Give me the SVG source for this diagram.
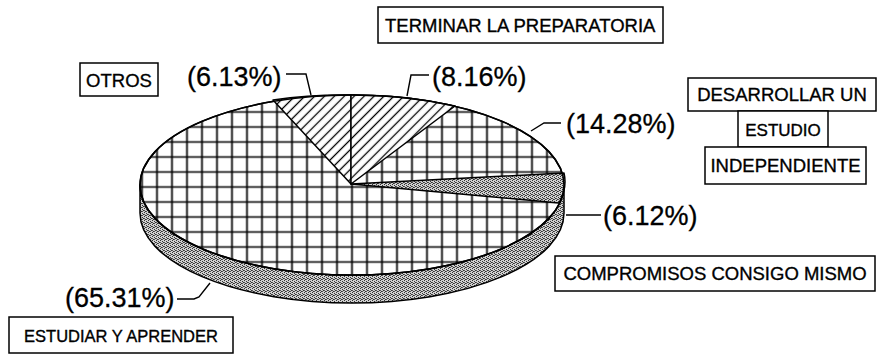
<svg xmlns="http://www.w3.org/2000/svg" width="879" height="355" viewBox="0 0 879 355">
<defs>
<pattern id="grid" patternUnits="userSpaceOnUse" x="-0.5" y="-0.5" width="15" height="15">
<rect width="15" height="15" fill="#fff"/>
<path d="M7.5,0 V15 M0,7.5 H15" stroke="#000" stroke-width="1.7" fill="none"/>
</pattern>
<pattern id="hatch" patternUnits="userSpaceOnUse" width="7" height="7" patternTransform="rotate(45)">
<rect width="7" height="7" fill="#fff"/>
<path d="M3.5,0 V7" stroke="#000" stroke-width="1.3"/>
</pattern>
<pattern id="stip" patternUnits="userSpaceOnUse" width="4" height="4">
<rect width="4" height="4" fill="#cfcfcf"/>
<rect x="0" y="0" width="1" height="1" fill="#333"/>
<rect x="2" y="1" width="1" height="1" fill="#333"/>
<rect x="1" y="3" width="1" height="1" fill="#333"/>
<rect x="3" y="2" width="1" height="1" fill="#333"/>
<rect x="2" y="3" width="1" height="1" fill="#555"/>
<rect x="0" y="2" width="1" height="1" fill="#555"/>
</pattern>
</defs>
<style>
.box{fill:#fff;stroke:#000;stroke-width:1.5}
.lbl{font-family:"Liberation Sans",Arial,sans-serif;font-size:18.5px;fill:#000;stroke:#000;stroke-width:0.35}
.pct{font-family:"Liberation Sans",Arial,sans-serif;font-size:27px;fill:#000;stroke:#000;stroke-width:0.3}
.edge{stroke:#000;stroke-width:1.5;stroke-linejoin:round}
.lead{fill:none;stroke:#000;stroke-width:1.4}
</style>
<rect width="879" height="355" fill="#fff"/>

<g id="pie">
<path class="edge" d="M140,185 L140,213 A212,90 0 0 0 564,213 L564,185 A212,90 0 0 1 140,185 Z" fill="url(#stip)"/>
<ellipse class="edge" cx="352" cy="185" rx="212" ry="90" fill="url(#grid)"/>
<path id="slice-otros" class="edge" d="M351,184 L273,100 A212,90 0 0 1 351,95 Z" fill="url(#hatch)"/>
<path id="slice-terminar" class="edge" d="M351,184 L351,95 A212,90 0 0 1 455,106 Z" fill="url(#hatch)"/>
<path id="slice-compromisos" class="edge" d="M351,184 L564,173 A212,90 0 0 1 559,203 Z" fill="url(#stip)"/>
<ellipse cx="352" cy="185" rx="212" ry="90" fill="none" stroke="#000" stroke-width="1.6"/>
</g>

<g id="connectors">
<path class="lead" d="M286,74 L306,74 L311,95"/>
<path class="lead" d="M407,96 L411,75 L429,75"/>
<path class="lead" d="M531,131 L544,123 L561,123"/>
<path class="lead" d="M566,215 L601,215"/>
<path class="lead" d="M177,299 L194,299 L199,297 L210,283"/>
</g>

<g id="pct-labels">
<text class="pct" x="187" y="86">(6.13%)</text>
<text class="pct" x="432" y="86">(8.16%)</text>
<text class="pct" x="566" y="133">(14.28%)</text>
<text class="pct" x="603" y="225">(6.12%)</text>
<text class="pct" x="65" y="307">(65.31%)</text>
</g>

<g id="terminar">
<rect class="box" x="378" y="7" width="285" height="36"/>
<text class="lbl" x="385" y="32">TERMINAR LA PREPARATORIA</text>
</g>
<g id="otros">
<rect class="box" x="80" y="63" width="78" height="33"/>
<text class="lbl" x="119" y="87" text-anchor="middle">OTROS</text>
</g>
<g id="desarrollar">
<rect class="box" x="688" y="78" width="188" height="33"/>
<text class="lbl" x="782" y="101" text-anchor="middle">DESARROLLAR UN</text>
</g>
<g id="estudio">
<rect class="box" x="738" y="111" width="90" height="36"/>
<text class="lbl" x="783" y="136" text-anchor="middle" style="font-size:17px">ESTUDIO</text>
</g>
<g id="independiente">
<rect class="box" x="705" y="147" width="161" height="37"/>
<text class="lbl" x="785.5" y="172" text-anchor="middle">INDEPENDIENTE</text>
</g>
<g id="compromisos">
<rect class="box" x="555" y="256" width="320" height="35"/>
<text class="lbl" x="715" y="280" text-anchor="middle">COMPROMISOS CONSIGO MISMO</text>
</g>
<g id="estudiar">
<rect class="box" x="9" y="317" width="224" height="36"/>
<text class="lbl" x="121" y="342" text-anchor="middle" style="font-size:16.5px">ESTUDIAR Y APRENDER</text>
</g>
</svg>
